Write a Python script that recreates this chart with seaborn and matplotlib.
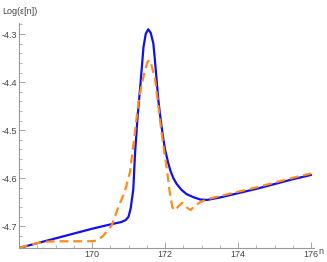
import numpy as np
import pandas as pd
import matplotlib
matplotlib.use("Agg")
import matplotlib.pyplot as plt
import matplotlib.ticker as mticker
import seaborn as sns

sns.set_theme(style="ticks")
plt.rcParams.update({
    "font.family": ["Liberation Sans", "DejaVu Sans"],
    "axes.unicode_minus": False,
})

# blue solid curve
N_BLUE = [168.0, 168.5, 169.0, 169.5, 170.0, 170.5, 170.8, 170.92, 171.0, 171.06,
          171.13, 171.18, 171.25, 171.32, 171.41, 171.47, 171.54, 171.61, 171.68,
          171.72, 171.77, 171.82, 171.88, 171.94, 172.0, 172.08, 172.15, 172.23,
          172.32, 172.45, 172.59, 172.8, 172.96, 173.15, 173.5, 174.0, 174.5,
          175.0, 175.5, 176.0]
LOG_BLUE = [-4.745, -4.735, -4.725, -4.715, -4.705, -4.696, -4.691, -4.687, -4.680, -4.662,
            -4.623, -4.546, -4.47, -4.41, -4.327, -4.30, -4.29, -4.298, -4.32,
            -4.352, -4.396, -4.44, -4.478, -4.512, -4.540, -4.566, -4.585, -4.600,
            -4.612, -4.624, -4.633, -4.640, -4.644, -4.645, -4.640, -4.631, -4.622,
            -4.612, -4.602, -4.593]

# orange dashed curve
N_ORANGE = [168.0, 168.3, 168.7, 169.0, 169.5, 170.0, 170.15, 170.3, 170.4, 170.54,
            170.72, 170.9, 171.04, 171.15, 171.27, 171.36, 171.45, 171.52, 171.57,
            171.63, 171.73, 171.8, 171.86, 171.95, 172.05, 172.13, 172.2, 172.27,
            172.37, 172.47, 172.58, 172.7, 172.82, 172.96, 173.18, 173.5, 174.0,
            174.5, 175.0, 175.5, 176.0]
LOG_ORANGE = [-4.745, -4.738, -4.732, -4.731, -4.731, -4.731, -4.729, -4.72, -4.711, -4.698,
              -4.66, -4.627, -4.587, -4.52, -4.443, -4.405, -4.375, -4.358, -4.354,
              -4.365, -4.396, -4.44, -4.478, -4.53, -4.581, -4.630, -4.660, -4.667,
              -4.658, -4.651, -4.66, -4.666, -4.657, -4.650, -4.643, -4.637, -4.628,
              -4.619, -4.609, -4.599, -4.590]

Y_TICKS = [-4.7, -4.6, -4.5, -4.4, -4.3]
X_TICKS = [170, 172, 174, 176]

fig = plt.figure(figsize=(3.27, 2.62), dpi=100)
ax = fig.add_axes([19 / 327, 14 / 262, 295 / 327, 225 / 262])

blue_df = pd.DataFrame({"n": N_BLUE, "v": LOG_BLUE})
orange_df = pd.DataFrame({"n": N_ORANGE, "v": LOG_ORANGE})

sns.lineplot(data=blue_df, x="n", y="v", color="#1010f0", linewidth=1.6,
             estimator=None, sort=False, ax=ax)
sns.lineplot(data=orange_df, x="n", y="v", color="#ff8c1a", linewidth=1.6,
             estimator=None, sort=False, ax=ax)
ax.lines[-1].set_dashes([4, 2.2])
for ln in ax.lines:
    ln.set_solid_joinstyle("round")
    ln.set_dash_joinstyle("round")

ax.set_xlim(168, 176.08)
ax.set_ylim(-4.745, -4.277)

ax.set_xticks(X_TICKS)
ax.set_yticks(Y_TICKS)
ax.set_xticklabels([str(t) for t in X_TICKS])
ax.set_yticklabels([f"{t:.1f}" for t in Y_TICKS])
ax.xaxis.set_minor_locator(mticker.MultipleLocator(0.5))
ax.yaxis.set_minor_locator(mticker.MultipleLocator(0.02))

spine_col = "#999999"
text_col = "#444444"
for side in ["top", "right"]:
    ax.spines[side].set_visible(False)
for side in ["left", "bottom"]:
    ax.spines[side].set_color(spine_col)
    ax.spines[side].set_linewidth(0.8)

ax.tick_params(axis="both", which="major", direction="in", length=4, width=0.6,
               color=spine_col, labelsize=6.5, labelcolor=text_col, pad=1.5)
ax.tick_params(axis="both", which="minor", direction="in", length=2, width=0.5,
               color=spine_col)

ax.set_xlabel("")
ax.set_ylabel("")
fig.text(2 / 327, 1 - 12 / 262, "Log(\u03b5[n])", fontsize=6.5, color=text_col,
         ha="left", va="center")
fig.text(318 / 327, 1 - 251 / 262, "n", fontsize=6.5, color=text_col,
         ha="left", va="center")

ax.set_facecolor("white")
fig.patch.set_facecolor("white")

fig.savefig("out.png", dpi=100, facecolor="white")
plt.close(fig)
